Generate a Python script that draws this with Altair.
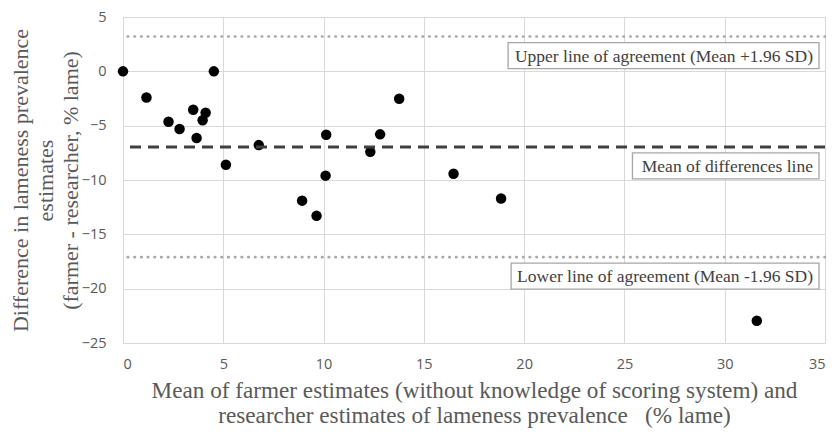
import altair as alt
import pandas as pd

# Bland-Altman style data
mean_x = [0.0, 1.17, 2.27, 2.82, 3.5, 3.67, 3.97, 4.12, 4.53, 5.13, 6.77,
          8.93, 9.65, 10.13, 10.1, 12.33, 12.82, 13.77, 16.48, 18.85, 31.6]
diff_y = [0.0, -2.41, -4.64, -5.3, -3.54, -6.13, -4.5, -3.81, 0.0, -8.6, -6.79,
          -11.9, -13.3, -5.83, -9.6, -7.41, -5.8, -2.53, -9.43, -11.7, -22.95]

line_kind = ["upper", "mean", "lower"]
line_values = [3.2, -6.96, -17.1]
line_labels = ["Upper line of agreement (Mean +1.96 SD)",
               "Mean of differences line",
               "Lower line of agreement (Mean -1.96 SD)"]
label_box_start = [19.2, 25.4, 19.35]

x_ticks = [0, 5, 10, 15, 20, 25, 30, 35]
y_ticks = [-25, -20, -15, -10, -5, 0, 5]
X_MAX = 35

pts = pd.DataFrame({"x": mean_x, "y": diff_y})
lines = pd.DataFrame({"kind": line_kind, "value": line_values,
                      "label": line_labels, "box_start": label_box_start,
                      "xr": [X_MAX] * 3})

NB = "\u00a0"
x_title = ["Mean of farmer estimates (without knowledge of scoring system) and",
           "researcher estimates of lameness prevalence" + NB * 3 + "(% lame)"]
y_title = ["Difference in lameness prevalence", "estimates",
           "(farmer - researcher, % lame)"]

xscale = alt.Scale(domain=[0, 35], nice=False, zero=False)
yscale = alt.Scale(domain=[-25, 5], nice=False, zero=False)
xaxis = alt.Axis(values=x_ticks, title=x_title, labelPadding=14, titlePadding=9,
                 titleFontSize=23.2, titleLineHeight=25)
yaxis = alt.Axis(values=y_ticks, title=y_title, labelPadding=17, titlePadding=-1,
                 titleFontSize=22, titleLineHeight=25)

points = alt.Chart(pts).mark_circle(size=110, color="black", opacity=1).encode(
    x=alt.X("x:Q", scale=xscale, axis=xaxis),
    y=alt.Y("y:Q", scale=yscale, axis=yaxis),
)

dotted = alt.Chart(lines).transform_filter(alt.datum.kind != "mean").mark_rule(
    color="#a8a8a8", strokeWidth=2.6, strokeDash=[0.5, 6.2], strokeCap="round"
).encode(y=alt.Y("value:Q", scale=yscale, axis=yaxis))

dashed = alt.Chart(lines).transform_filter(alt.datum.kind == "mean").mark_rule(
    color="#404040", strokeWidth=3, strokeDash=[11, 7]
).encode(y=alt.Y("value:Q", scale=yscale, axis=yaxis))

boxes = alt.Chart(lines).mark_rect(
    fill="white", stroke="#a6a6a6", strokeWidth=1.3,
    yOffset=6, y2Offset=32, x2Offset=-6
).encode(
    x=alt.X("box_start:Q", scale=xscale, axis=xaxis),
    x2="xr:Q",
    y=alt.Y("value:Q", scale=yscale, axis=yaxis),
    y2="value:Q",
)

texts = alt.Chart(lines).mark_text(
    align="right", baseline="alphabetic", dx=-12, dy=25,
    font="Liberation Serif", fontSize=17.5, color="#404040"
).encode(
    x=alt.X("xr:Q", scale=xscale, axis=xaxis),
    y=alt.Y("value:Q", scale=yscale, axis=yaxis),
    text="label:N",
)

chart = alt.layer(points, dashed, dotted, boxes, texts).properties(
    width=702, height=326,
    autosize=alt.AutoSizeParams(type="none"),
    padding={"left": 115, "top": 9, "right": 1, "bottom": 86},
).configure_view(stroke="#d9d9d9", strokeWidth=1).configure_axis(
    gridColor="#d9d9d9", gridWidth=1, domainColor="#d9d9d9", ticks=False,
    labelFont="Open Sans", labelFontSize=14.5, labelColor="#595959",
    titleFont="Liberation Serif", titleColor="#595959",
    titleFontWeight="normal",
)

chart.save("out.html", embed_options={"renderer": "svg", "actions": False})
